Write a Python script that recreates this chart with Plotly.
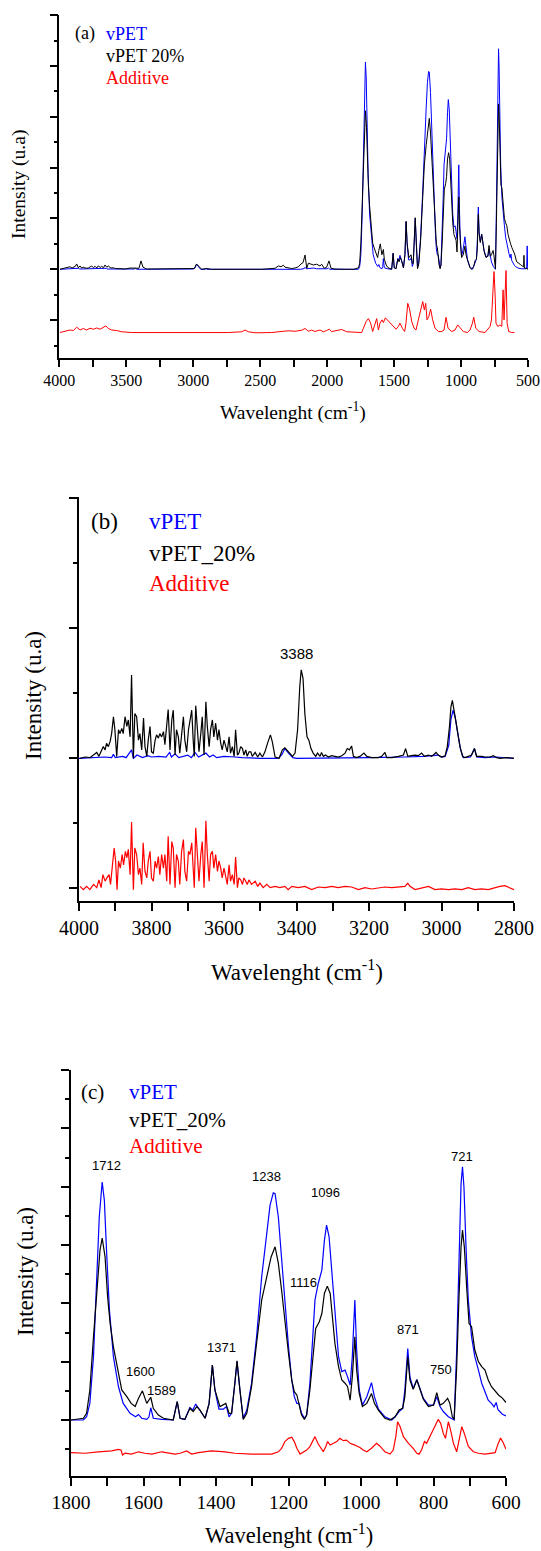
import plotly.graph_objects as go

W, H = 541, 1551

# ================= DATA =================
# ---- Panel (c): fingerprint region 1800-600 cm-1 (same data reused in panel (a)) ----
c_vpet_wn = [1800,1766,1757,1748,1738,1729,1722,1714,1708,1702,
             1694,1683,1669,1656,1637,1622,1614,1605,1591,1585,
             1580,1573,1550,1518,1507,1499,1486,1472,1464,1456,
             1444,1430,1419,1410,1403,1392,1380,1371,1364,1357,
             1348,1342,1334,1325,1315,1302,1288,1274,1260,1251,
             1242,1237,1228,1219,1210,1200,1191,1184,1177,1171,
             1164,1156,1150,1141,1133,1127,1118,1108,1101,1095,
             1088,1081,1072,1062,1053,1044,1037,1030,1024,1017,
             1012,1005,996,984,971,963,952,934,915,906,
             895,885,879,871,865,856,846,839,828,814,
             800,791,782,773,759,750,743,736,730,724,
             720,716,710,704,695,686,676,667,658,649,
             640,633,627,622,610,600]
c_vpet = [0,0,0.11,0.57,2.17,4.68,6.96,8.16,7.53,5.82,
          3.77,2.17,1.14,0.57,0.23,0.11,0.19,0.06,0.02,0.10,
          0.42,0.06,0.02,0.0,0.63,0.06,0.02,0.43,0.34,0.55,
          0.34,0.06,0.57,1.88,1.03,0.37,0.37,0.46,0.11,0.23,
          1.26,2.0,1.03,0.06,0.34,1.26,2.85,4.91,6.39,7.36,
          7.79,7.76,6.96,5.48,3.88,2.51,1.37,0.80,0.57,0.57,
          0.23,0.06,0.17,1.26,2.85,4.11,4.68,5.14,6.16,6.68,
          6.28,5.14,3.54,2.17,1.66,1.71,1.48,1.20,2.17,4.11,
          2.40,1.03,0.51,0.80,1.28,0.80,0.37,0.11,0.0,0.11,
          0.29,0.40,1.03,2.45,1.48,1.08,1.39,1.14,0.74,0.51,
          0.51,0.80,0.46,0.29,0.11,0.05,0.0,2.40,5.82,8.10,
          8.68,7.99,5.82,4.11,2.85,2.17,1.71,1.26,0.97,0.68,
          0.57,0.45,0.60,0.35,0.20,0.14]

c_vpet20_wn = [1800,1766,1757,1748,1738,1729,1720,1714,1706,1699,
               1692,1683,1671,1660,1646,1634,1623,1614,1603,1591,
               1580,1573,1559,1545,1518,1507,1499,1486,1472,1463,
               1453,1444,1430,1419,1410,1403,1389,1373,1364,1357,
               1348,1342,1334,1325,1315,1302,1288,1274,1260,1248,
               1237,1228,1219,1210,1200,1191,1184,1177,1171,1164,
               1156,1150,1141,1131,1125,1115,1108,1101,1093,1085,
               1079,1072,1062,1053,1044,1037,1030,1024,1017,1012,
               1005,996,984,971,963,952,934,920,906,895,
               885,879,871,865,856,846,839,828,814,800,
               791,782,773,761,755,748,743,736,730,724,
               720,715,708,702,695,686,676,667,658,649,
               640,630,620,610,600]
c_vpet20 = [0,0.06,0.23,1.03,2.85,4.45,5.82,6.24,5.59,4.22,
            3.31,2.51,1.71,1.03,0.80,0.57,0.46,0.74,1.0,0.57,
            0.78,0.40,0.17,0.06,0.0,0.63,0.06,0.02,0.40,0.29,
            0.46,0.34,0.06,0.57,1.88,1.03,0.46,0.57,0.23,0.23,
            1.26,2.03,1.03,0.02,0.23,1.14,2.63,4.11,4.91,5.59,
            5.94,5.37,4.45,3.31,2.28,1.37,0.97,0.86,0.51,0.17,
            0.02,0.17,1.03,2.51,3.14,3.37,3.65,4.34,4.59,4.34,
            3.54,2.63,1.83,1.37,1.26,1.14,0.68,1.48,2.85,1.71,
            0.91,0.46,0.57,0.91,0.57,0.34,0.06,0.0,0.11,0.34,
            0.40,0.80,2.17,1.37,1.05,1.37,1.12,0.71,0.46,0.51,
            0.94,0.51,0.57,0.74,0.57,0.11,0.02,1.83,4.11,5.94,
            6.51,5.94,4.45,3.31,3.20,2.40,2.00,1.83,1.71,1.37,
            1.14,1.00,0.85,0.75,0.60]

c_add_wn = [1800,1761,1725,1688,1669,1662,1658,1651,1633,1614,
            1596,1577,1550,1531,1513,1499,1481,1467,1449,1412,
            1375,1348,1302,1246,1228,1219,1210,1200,1191,1184,
            1177,1168,1159,1150,1141,1133,1127,1119,1110,1104,
            1097,1092,1085,1076,1067,1058,1049,1040,1030,1017,
            1003,994,984,971,957,948,934,920,911,904,
            899,892,883,869,856,846,840,833,825,819,
            810,798,787,780,773,767,759,753,745,736,
            730,722,715,704,690,676,658,644,630,622,
            615,608,600]
c_add = [0,-0.02,0.03,0.06,0.11,0.09,-0.08,-0.02,-0.05,0.03,
         -0.02,-0.05,0.03,-0.02,-0.05,-0.02,0.06,-0.05,0.0,0.06,
         0.03,-0.02,-0.05,-0.05,0.03,0.15,0.38,0.49,0.53,0.38,
         0.15,-0.05,0.03,0.09,0.21,0.43,0.55,0.32,0.15,0.03,
         0.21,0.38,0.26,0.32,0.38,0.49,0.41,0.43,0.32,0.26,
         0.18,0.09,0.03,0.15,0.32,0.23,0.03,-0.05,0.09,0.55,
         1.06,0.89,0.55,0.32,0.15,-0.02,-0.05,0.09,0.38,0.32,
         0.55,0.83,1.14,1.0,0.66,0.49,1.06,0.78,0.32,0.03,
         0.43,0.89,0.66,0.21,0.03,-0.02,-0.05,-0.02,0.0,0.30,
         0.50,0.35,0.12]

# ---- Panel (a): extra regions outside 1800-600 ----
a_vpet20_hi_wn = [3995,3980,3957,3940,3920,3905,3895,3880,3870,3858,
                  3845,3833,3821,3800,3783,3770,3758,3745,3733,3720,
                  3708,3695,3684,3670,3659,3645,3634,3615,3597,3580,
                  3559,3509,3472,3435,3405,3390,3375,3348,3236,3087,
                  2992,2975,2957,2937,2899,2862,2663,2488,2389,2364,
                  2344,2327,2314,2289,2265,2240,2215,2195,2180,2165,
                  2152,2140,2122,2103,2078,2053,2041,2021,2004,1986,
                  1971,1942,1867,1830]
a_vpet20_hi = [0,0.02,0.04,0.09,0.10,0.05,0.08,0.12,0.21,0.06,
               0.13,0.05,0.08,0.04,0.05,0.10,0.13,0.06,0.12,0.05,
               0.14,0.07,0.12,0.06,0.17,0.08,0.13,0.05,0.06,0.03,
               0.03,0.01,0.05,0.03,0.04,0.33,0.08,0.01,0.01,0.01,
               0.03,0.21,0.10,0.0,0.03,0.0,0.0,0.0,0.04,0.13,
               0.10,0.16,0.08,0.05,0.03,0.05,0.10,0.21,0.26,0.56,
               0.04,0.24,0.21,0.17,0.20,0.13,0.20,0.04,0.08,0.33,
               0.04,0.01,0.0,0.01]
a_vpet20_lo_wn = [585,570,555,540,533,530,527,515,505,500]
a_vpet20_lo = [0.30,0.22,0.18,0.12,0.10,0.55,0.05,0.04,0.02,0.0]

a_vpet_hi_wn = [3995,3900,3855,3850,3750,3700,3650,3645,3500,3440,
                3432,3420,3000,2985,2975,2962,2945,2910,2905,2900,
                2200,2170,2165,2155,2120,2100,2080,2000,1990,1980,1830]
a_vpet_hi = [0,0.01,0.04,0.01,0.03,0.02,0.04,0.01,0.0,0.01,
             0.04,0.0,0.01,0.06,0.20,0.12,0.0,0.0,0.04,0.0,
             0.0,0.03,0.08,0.02,0.03,0.05,0.02,0.02,0.05,0.0,0.0]
a_vpet_lo_wn = [590,575,550,520,510,506,503,500]
a_vpet_lo = [0.10,0.05,0.02,0.02,0.05,0.92,0.10,0.0]

a_add_wn = [3995,3957,3920,3895,3870,3845,3821,3796,3771,3746,
            3721,3696,3671,3653,3634,3609,3572,3534,3460,3286,
            3037,2738,2638,2613,2588,2538,2414,2340,2290,2240,
            2190,2165,2140,2116,2091,2053,2028,2004,1984,1966,
            1929,1891,1854,1779,1742,1729,1709,1692,1675,1660,
            1647,1630,1617,1605,1590,1580,1565,1550,1530,1505,
            1485,1468,1456,1438,1421,1411,1398,1386,1368,1351,
            1336,1319,1301,1286,1274,1264,1254,1241,1227,1212,
            1194,1169,1144,1127,1112,1097,1070,1045,1025,1002,
            983,953,933,915,905,890,865,821,796,783,
            773,764,754,746,739,726,709,696,686,679,
            671,664,656,644,621,601]
a_add = [0,0.04,0.10,0.08,0.21,0.10,0.16,0.10,0.17,0.13,
         0.18,0.13,0.21,0.26,0.16,0.10,0.08,0.03,0.0,0.0,
         0.0,0.0,0.03,0.10,0.03,-0.01,0.0,0.04,0.07,0.05,
         0.09,0.16,0.05,0.10,0.04,0.10,0.03,0.08,0.13,0.04,
         0.08,0.12,0.03,0.0,0.0,0.17,0.43,0.55,0.37,0.04,
         0.30,0.55,0.10,0.37,0.50,0.39,0.58,0.50,0.37,0.24,
         0.13,0.24,0.37,0.17,0.04,0.37,1.15,0.96,0.43,0.17,
         0.10,0.50,0.89,1.22,0.89,1.15,0.50,0.63,0.92,0.50,
         0.17,0.04,0.04,0.10,0.60,0.17,0.04,0.10,0.30,0.17,
         0.04,0.0,0.10,0.37,0.60,0.17,0.04,0.0,0.17,0.24,
         0.50,1.42,2.40,1.55,0.37,0.24,0.30,0.24,1.68,0.50,
         1.42,2.44,0.37,0.04,0.0,0.0]

# ---- Panel (b): 4000-2800 cm-1 ----
b_vpet20_wn = [3997,3983,3970,3960,3951,3945,3939,3933,3928,3924,
               3919,3914,3910,3905,3901,3896,3891,3887,3882,3878,
               3873,3868,3864,3859,3855,3850,3846,3841,3836,3832,
               3827,3822,3818,3813,3809,3804,3800,3795,3790,3786,
               3781,3777,3772,3767,3763,3758,3754,3749,3744,3740,
               3735,3731,3726,3722,3717,3712,3708,3703,3698,3694,
               3689,3685,3682,3678,3674,3669,3664,3660,3655,3650,
               3646,3641,3637,3632,3628,3623,3618,3614,3609,3605,
               3600,3596,3591,3586,3582,3577,3572,3568,3563,3559,
               3554,3549,3545,3540,3536,3531,3526,3522,3514,3507,
               3501,3494,3487,3480,3472,3467,3459,3448,3439,3432,
               3422,3411,3404,3397,3391,3387,3382,3377,3371,3366,
               3360,3354,3347,3342,3335,3331,3326,3320,3312,3303,
               3294,3285,3275,3266,3260,3254,3248,3243,3234,3225,
               3214,3206,3193,3174,3165,3156,3151,3137,3119,3105,
               3099,3093,3084,3073,3064,3055,3047,3036,3027,3015,
               3009,3000,2990,2984,2978,2974,2970,2966,2961,2955,
               2949,2942,2935,2926,2917,2909,2903,2889,2880,2866,
               2857,2848,2839,2820,2800]
b_vpet20 = [0,0.02,0.01,0.05,0.09,0.03,0.12,0.18,0.13,0.23,
            0.18,0.26,0.38,0.64,0.44,0.03,0.44,0.38,0.46,0.38,
            0.64,0.49,0.59,0.33,1.28,0,0.69,0.64,0.28,0.38,
            0.13,0.62,0.18,0.03,0.28,0.49,0.10,0.08,0.28,0.36,
            0.31,0.38,0.33,0.41,0.21,0.59,0.75,0.13,0.59,0.74,
            0.05,0.44,0.33,0.08,0.38,0.64,0.28,0.10,0.44,0.59,
            0.74,0.28,0.03,0.81,0.44,0.10,0.38,0.64,0.05,0.87,
            0.49,0.18,0.44,0.59,0.33,0.54,0.28,0.44,0.23,0.13,
            0.28,0.18,0.10,0.33,0.08,0.18,0.03,0.44,0.05,0.08,
            0.18,0.15,0.05,0.13,0.03,0.10,0.10,0.03,0.09,0.02,
            0.08,0.02,0.10,0.23,0.36,0.26,0.02,0,0.13,0.16,
            0.10,0.03,0.08,0.44,1.10,1.36,1.23,0.69,0.33,0.28,
            0.15,0.08,0.03,0.08,0.03,0.09,0.03,0.05,0.02,0.04,
            0.03,0.02,0.04,0.08,0.15,0.13,0.19,0.03,0.01,0.03,
            0.08,0.03,0.01,0.01,0.03,0.09,0.01,0.01,0.03,0.05,
            0.15,0.03,0.04,0.05,0.04,0.08,0.03,0.05,0.03,0.09,
            0.05,0.02,0.04,0.18,0.49,0.79,0.89,0.72,0.59,0.38,
            0.18,0.03,0.01,0.03,0.05,0.15,0.03,0.03,0.02,0.02,
            0.04,0.01,0,0.01,0]

b_vpet_wn = [4000,3960,3930,3910,3905,3900,3880,3870,3855,3850,
             3840,3825,3810,3800,3780,3760,3750,3745,3735,3725,
             3712,3700,3690,3680,3670,3650,3640,3630,3620,3600,
             3570,3550,3500,3450,3440,3432,3422,3410,3400,3300,
             3200,3100,3050,3010,3000,2990,2980,2974,2968,2962,
             2955,2948,2940,2920,2909,2903,2880,2850,2800]
b_vpet = [0,0.01,0.02,0.01,0.06,0.01,0.03,0.01,0.13,0.0,
          0.05,0.01,0.04,0.02,0.03,0.02,0.09,0.02,0.07,0.01,
          0.03,0.05,0.01,0.09,0.02,0.08,0.02,0.05,0.01,0.03,
          0.02,0.01,0.0,0.0,0.06,0.15,0.08,0.01,0.0,0.0,
          0.01,0.02,0.03,0.05,0.02,0.03,0.20,0.60,0.74,0.62,
          0.38,0.15,0.01,0.02,0.15,0.02,0.01,0.02,0.0]

b_add_wn = [3997,3988,3979,3970,3960,3951,3945,3939,3934,3928,
            3923,3917,3913,3908,3903,3899,3895,3891,3886,3881,
            3877,3872,3868,3864,3859,3855,3850,3846,3841,3836,
            3832,3827,3823,3818,3813,3809,3804,3800,3795,3790,
            3786,3781,3777,3772,3767,3763,3758,3754,3749,3744,
            3740,3735,3731,3726,3722,3717,3712,3708,3703,3698,
            3694,3689,3685,3682,3678,3674,3669,3664,3660,3655,
            3650,3646,3641,3637,3632,3628,3623,3618,3614,3609,
            3605,3600,3596,3591,3586,3582,3577,3572,3568,3563,
            3559,3554,3549,3545,3540,3536,3531,3524,3514,3507,
            3501,3492,3482,3473,3459,3446,3432,3423,3413,3395,
            3377,3358,3340,3321,3303,3285,3266,3248,3229,3211,
            3193,3174,3156,3137,3119,3101,3093,3087,3073,3055,
            3036,3018,3000,2981,2963,2944,2926,2908,2889,2871,
            2852,2839,2825,2815,2800]
b_add = [0.05,0,0.05,0,0.08,0.03,0.15,0.03,0.23,0.13,
         0.18,0.23,0.08,0.33,0.64,0.44,0,0.44,0.33,0.54,
         0.38,0.59,0.49,0.62,0.23,1.04,0,0.64,0.54,0.23,
         0.33,0.08,0.72,0.28,0.18,0.44,0.59,0.18,0.13,0.44,
         0.33,0.51,0.23,0.54,0.33,0.54,0.13,0.82,0.08,0.74,
         0.64,0.03,0.54,0.44,0.08,0.59,0.77,0.28,0.13,0.59,
         0.54,0.72,0.33,0.03,0.95,0.59,0.13,0.54,0.74,0.03,
         1.06,0.54,0.13,0.54,0.59,0.33,0.54,0.28,0.44,0.33,
         0.18,0.33,0.23,0.08,0.38,0.13,0.23,0.08,0.50,0.03,
         0.18,0.15,0.08,0.18,0.13,0.08,0.15,0.08,0.13,0.05,
         0.10,0.03,0.08,0.03,0.05,0.03,0.05,0,0.05,0.03,
         0.05,0,0.04,0.03,0.05,0.03,0.05,0.04,0,0.03,
         0.01,0.03,0.04,0.03,0.04,0.05,0.10,0.05,0,0.03,
         0.05,0,0.01,0,0.01,0,0.03,0,0.01,0,
         0.03,0.05,0.06,0.04,0]

# vertical offsets of the Additive curves (stacked-plot baselines)
a_add_offset = -2.49
b_add_offset = -2.02
c_add_offset = -1.12

series_names = ["vPET", "vPET 20%", "Additive"]
series_names_bc = ["vPET", "vPET_20%", "Additive"]
series_colors = ["#0000FF", "#000000", "#FF0000"]

for a_, b_ in [(c_vpet_wn, c_vpet), (c_vpet20_wn, c_vpet20), (c_add_wn, c_add),
               (a_vpet20_hi_wn, a_vpet20_hi), (a_vpet20_lo_wn, a_vpet20_lo),
               (a_vpet_hi_wn, a_vpet_hi), (a_vpet_lo_wn, a_vpet_lo), (a_add_wn, a_add),
               (b_vpet20_wn, b_vpet20), (b_vpet_wn, b_vpet), (b_add_wn, b_add)]:
    assert len(a_) == len(b_), (len(a_), len(b_))

# ================= FIGURE =================
fig = go.Figure()


def add(x, y, color, xa, ya, offset=0.0, width=1.2):
    fig.add_trace(go.Scatter(x=x, y=[v + offset for v in y], mode="lines",
                             line=dict(color=color, width=width),
                             xaxis=xa, yaxis=ya, hoverinfo="skip"))


# panel (a)
a_vpet_wn_all = a_vpet_hi_wn + c_vpet_wn + a_vpet_lo_wn
a_vpet_all = a_vpet_hi + c_vpet + a_vpet_lo
a_vpet20_wn_all = a_vpet20_hi_wn + c_vpet20_wn + a_vpet20_lo_wn
a_vpet20_all = a_vpet20_hi + c_vpet20 + a_vpet20_lo
add(a_vpet_wn_all, a_vpet_all, series_colors[0], "x", "y", width=1.0)
add(a_vpet20_wn_all, a_vpet20_all, series_colors[1], "x", "y", width=1.0)
add(a_add_wn, a_add, series_colors[2], "x", "y", a_add_offset, width=1.0)
# panel (b)
add(b_vpet_wn, b_vpet, series_colors[0], "x2", "y2", width=1.2)
add(b_vpet20_wn, b_vpet20, series_colors[1], "x2", "y2", width=1.2)
add(b_add_wn, b_add, series_colors[2], "x2", "y2", b_add_offset, width=1.2)
# panel (c)
add(c_vpet_wn, c_vpet, series_colors[0], "x3", "y3", width=1.2)
add(c_vpet20_wn, c_vpet20, series_colors[1], "x3", "y3", width=1.2)
add(c_add_wn, c_add, series_colors[2], "x3", "y3", c_add_offset, width=1.2)

SERIF = "Liberation Serif"
SANS = "Liberation Sans"


def xax(dom, rng, dtick, minor_dtick, fsize, anchor, ticklen=7):
    return dict(domain=[dom[0] / W, dom[1] / W], range=rng, anchor=anchor,
                automargin=False,
                tickmode="linear", tick0=rng[1], dtick=dtick,
                ticks="outside", ticklen=ticklen, tickwidth=1.5, tickcolor="black",
                showline=True, linecolor="black", linewidth=1.5,
                showgrid=False, zeroline=False,
                tickfont=dict(family=SERIF, size=fsize, color="black"),
                minor=dict(dtick=minor_dtick, tick0=rng[1], ticks="outside", ticklen=ticklen,
                           tickwidth=1.5, tickcolor="black", showgrid=False))


def yax(dom_px, rng, anchor):
    return dict(domain=[1 - dom_px[1] / H, 1 - dom_px[0] / H], range=rng, anchor=anchor,
                automargin=False,
                tickmode="linear", tick0=0, dtick=2,
                ticks="outside", ticklen=8, tickwidth=1.5, tickcolor="black",
                showline=True, linecolor="black", linewidth=1.5,
                showgrid=False, zeroline=False, showticklabels=False,
                minor=dict(dtick=1, tick0=0, ticks="outside", ticklen=4,
                           tickwidth=1.5, tickcolor="black", showgrid=False))


fig.update_layout(
    width=W, height=H, margin=dict(l=0, r=0, t=0, b=0, pad=0), autosize=False,
    paper_bgcolor="white", plot_bgcolor="white", showlegend=False,
    xaxis=xax((59.3, 528), [4000, 500], 500, 250, 16, "y"),
    yaxis=yax((15, 358.3), [-3.504, 10.01], "x"),
    xaxis2=xax((79, 514), [4000, 2800], 200, 100, 20, "y2", ticklen=8),
    yaxis2=yax((497.3, 901), [-2.195, 4.015], "x2"),
    xaxis3=xax((71, 506), [1800, 600], 200, 100, 19.5, "y3", ticklen=8),
    yaxis3=yax((1070, 1476), [-1.92, 12.0], "x3"),
)

ann = []


def txt(s, xp, yp, size, color="black", family=SERIF, xanchor="center", angle=0):
    ann.append(dict(text=s, x=xp / W, y=1 - yp / H, xref="paper", yref="paper",
                    xanchor=xanchor, yanchor="middle", showarrow=False, textangle=angle,
                    font=dict(family=family, size=size, color=color)))


# panel (a) labels
txt("(a)", 73, 33.5, 18, xanchor="left")
for i, yy in enumerate([33.5, 56, 78]):
    txt(series_names[i], 104, yy, 18, series_colors[i], xanchor="left")
txt("Intensity (u.a)", 19, 185, 19.5, angle=-90)
txt("Wavelenght (cm<sup>-1</sup>)", 293, 411, 19.5)

# panel (b) labels
txt("(b)", 89, 521, 23, xanchor="left")
for i, yy in enumerate([521, 553, 583]):
    txt(series_names_bc[i], 147, yy, 23, series_colors[i], xanchor="left")
txt("3388", 296, 653, 15, family=SANS)
txt("Intensity (u.a)", 33, 696, 23, angle=-90)
txt("Wavelenght (cm<sup>-1</sup>)", 297, 970, 23)

# panel (c) labels
txt("(c)", 79, 1092, 21, xanchor="left")
for i, yy in enumerate([1092, 1119.5, 1146]):
    txt(series_names_bc[i], 127, yy, 21, series_colors[i], xanchor="left")
peak_labels = ["1712", "1238", "1600", "1589", "1371", "1096", "1116", "871", "750", "721"]
peak_label_px = [(106.7, 1165), (266.7, 1176.7), (140, 1371), (161.7, 1390), (221.7, 1347.3),
                 (325, 1192.7), (303.3, 1282.3), (407.7, 1329.3), (441, 1369.3), (462.3, 1156.7)]
for lab, (px, py) in zip(peak_labels, peak_label_px):
    txt(lab, px, py, 13, family=SANS)
txt("Intensity (u.a)", 25, 1272, 23, angle=-90)
txt("Wavelenght (cm<sup>-1</sup>)", 289, 1534, 22.5)

fig.update_layout(annotations=ann)
fig.write_html("out.html", config={"displayModeBar": False},
               post_script="document.body.style.margin='0';document.body.style.padding='0';")
